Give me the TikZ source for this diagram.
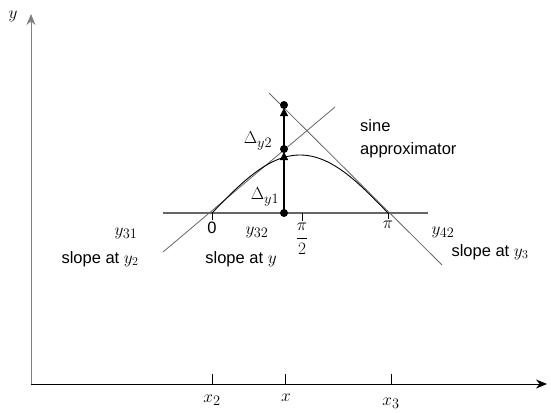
\documentclass[tikz,border=0pt]{standalone}
\usepackage[no-math]{fontspec}
\setmainfont{Liberation Sans}
\usetikzlibrary{arrows.meta}
\begin{document}
\begin{tikzpicture}[x=1pt,y=-1pt,
  txt/.style={font=\fontsize{16.5}{23}\selectfont, inner sep=0pt},
  mth/.style={font=\fontsize{19}{21}\selectfont, inner sep=0pt},
  dotc/.style={circle, fill=black, inner sep=0pt, minimum size=8pt},
  axis/.style={line width=1pt, -{Stealth[length=11pt,width=9pt]}},
  vtip/.style={line width=1.1pt, -{Triangle[length=8pt,width=8pt]}, shorten >=3pt},
  guide/.style={line width=0.8pt, draw=black!60},
  tick/.style={line width=0.8pt}
]
\useasboundingbox (0,0) rectangle (551,412);

% axes
\coordinate (O) at (31,384);
\coordinate (Ytop) at (31,14);
\coordinate (Xend) at (547,384);
\draw[axis, draw=black!50] (O) -- (Ytop);
\draw[axis] (O) -- (Xend);
\node[mth] (ylab) at (13,16) {$y$};

% x-axis ticks and labels
\coordinate (t2a) at (212,374); \coordinate (t2b) at (212,384);
\coordinate (txa) at (285,374); \coordinate (txb) at (285,384);
\coordinate (t3a) at (391,374); \coordinate (t3b) at (391,384);
\draw[tick] (t2a) -- (t2b);
\draw[tick] (txa) -- (txb);
\draw[tick] (t3a) -- (t3b);
\node[mth] (x2lab) at (212,400) {$x_2$};
\node[mth] (xlab) at (286,398) {$x$};
\node[mth] (x3lab) at (391,403) {$x_3$};

% horizontal reference line
\coordinate (hL) at (163,213);
\coordinate (hR) at (428,213);
\draw[guide, line width=1.3pt] (hL) -- (hR);
\coordinate (z0) at (212,213); \coordinate (z0b) at (212,220);
\coordinate (zp2) at (302,213); \coordinate (zp2b) at (302,221);
\coordinate (zp) at (388,213); \coordinate (zpb) at (388,219);
\draw[tick] (z0) -- (z0b);
\draw[tick] (zp2) -- (zp2b);
\draw[tick] (zp) -- (zpb);
\node[txt] (zero) at (212,228) {0};
\node[mth] (pihalf) at (302,239) {$\displaystyle\frac{\pi}{2}$};
\node[mth] (pi) at (388,225) {$\pi$};

% tangent lines
\coordinate (l1a) at (163,252);
\coordinate (l1b) at (335,107);
\coordinate (l2a) at (269,93);
\coordinate (l2b) at (442,265);
\draw[guide] (l1a) -- (l1b);
\draw[guide] (l2a) -- (l2b);

% sine curve
\draw[line width=0.9pt] plot[domain=0:180, samples=80, smooth]
  ({212+0.977778*\x},{213-58*sin(\x)});

% vertical with dots
\node[dotc] (d0) at (284,213) {};
\node[dotc] (d1) at (284,149) {};
\node[dotc] (d2) at (284,105) {};
\draw[vtip] (d0.center) -- (d1.center);
\draw[vtip] (d1.center) -- (d2.center);
\node[mth] (dy2) at (258,141) {$\Delta_{y2}$};
\node[mth] (dy1) at (265,197) {$\Delta_{y1}$};

% text labels
\node[txt, anchor=west, align=left] (sine) at (360,139) {sine\\approximator};
\node[mth] (y31) at (126,233) {$y_{31}$};
\node[mth] (y32) at (257,232) {$y_{32}$};
\node[mth] (y42) at (443,232) {$y_{42}$};
\node[txt] (s2) at (100,259) {slope at $y_2$};
\node[txt] (s0) at (241,259) {slope at $y$};
\node[txt] (s3) at (490,252) {slope at $y_3$};
\end{tikzpicture}
\end{document}
